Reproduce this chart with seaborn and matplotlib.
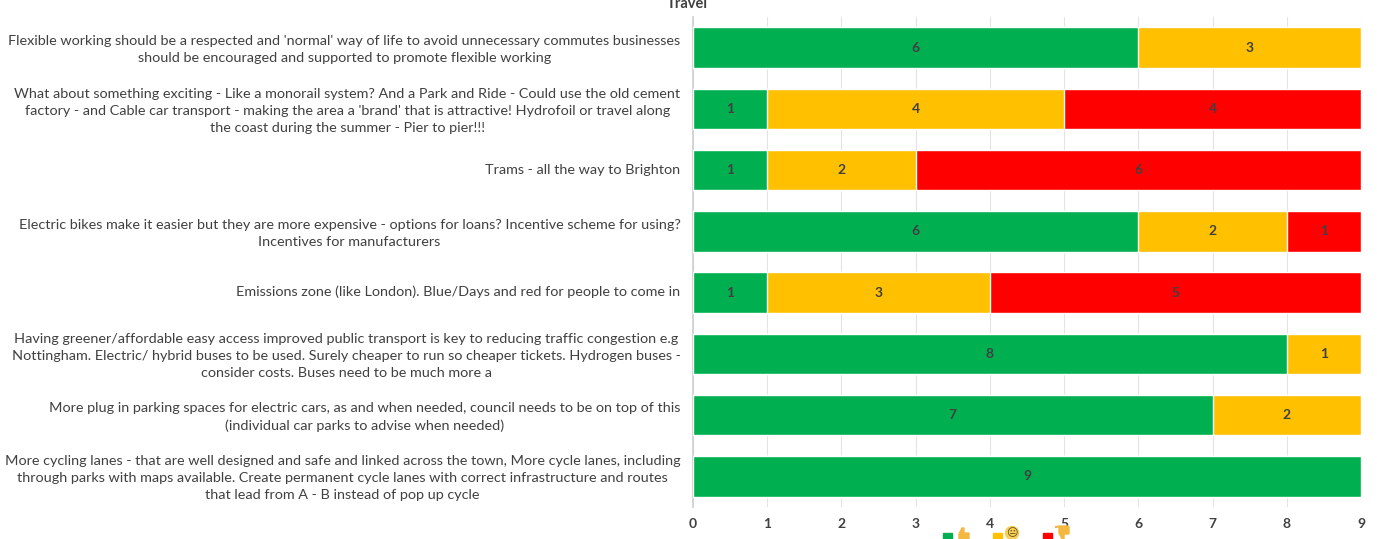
import numpy as np
import pandas as pd
import matplotlib
matplotlib.use('Agg')
import matplotlib.pyplot as plt
from matplotlib.patches import Rectangle, Circle, Polygon
from matplotlib.transforms import IdentityTransform, ScaledTranslation
import seaborn as sns

categories = [
    "Flexible working should be a respected and 'normal' way of life to avoid unnecessary commutes businesses\nshould be encouraged and supported to promote flexible working",
    "What about something exciting - Like a monorail system? And a Park and Ride - Could use the old cement\nfactory - and Cable car transport - making the area a 'brand' that is attractive! Hydrofoil or travel along\nthe coast during the summer - Pier to pier!!!",
    "Trams - all the way to Brighton",
    "Electric bikes make it easier but they are more expensive - options for loans? Incentive scheme for using?\nIncentives for manufacturers",
    "Emissions zone (like London). Blue/Days and red for people to come in",
    "Having greener/affordable easy access improved public transport is key to reducing traffic congestion e.g\nNottingham. Electric/ hybrid buses to be used. Surely cheaper to run so cheaper tickets. Hydrogen buses -\nconsider costs. Buses need to be much more a",
    "More plug in parking spaces for electric cars, as and when needed, council needs to be on top of this\n(individual car parks to advise when needed)",
    "More cycling lanes - that are well designed and safe and linked across the town, More cycle lanes, including\nthrough parks with maps available. Create permanent cycle lanes with correct infrastructure and routes\nthat lead from A - B instead of pop up cycle",
]
positive = [6, 1, 1, 6, 1, 8, 7, 9]
neutral = [3, 4, 2, 2, 3, 1, 2, 0]
negative = [0, 4, 6, 1, 5, 0, 0, 0]
x_ticks = [0, 1, 2, 3, 4, 5, 6, 7, 8, 9]

GREEN = '#00B050'
AMBER = '#FFC000'
RED = '#FF0000'
TEXT = '#404040'
THUMB = '#F4B740'

sns.set_theme(style='white')
plt.rcParams['font.family'] = ['Lato', 'DejaVu Sans']

df = pd.DataFrame({'label': categories, 'pos': positive, 'neu': neutral, 'neg': negative})
df['to_neu'] = df['pos'] + df['neu']
df['to_neg'] = df['to_neu'] + df['neg']

W, H = 1377, 539
fig = plt.figure(figsize=(W / 100, H / 100), dpi=100)
ax = fig.add_axes([693 / W, 1 - 507 / H, (1361 - 693) / W, (507 - 17) / H])

# stacked by overdrawing the running totals, longest first
for col, color in [('to_neg', RED), ('to_neu', AMBER), ('pos', GREEN)]:
    sns.barplot(data=df, x=col, y='label', color=color, saturation=1, width=0.66,
                orient='y', ax=ax, zorder=3)

for i, row in df.iterrows():
    start = 0
    for col in ['pos', 'neu', 'neg']:
        v = row[col]
        if v > 0:
            ax.text(start + v / 2, i, str(v), ha='center', va='center',
                    fontsize=10, color=TEXT, fontweight='bold', zorder=4)
        start += v

ax.set_xlim(0, 9)
ax.set_xticks(x_ticks)
ax.set_xlabel('')
ax.set_ylabel('')
ax.grid(axis='x', color='#E4E4E4', linewidth=0.8, zorder=0)
sns.despine(ax=ax, top=True, right=True, bottom=True)
ax.spines['left'].set_color('#D0D0D0')
ax.tick_params(axis='y', length=0, pad=9)
ax.tick_params(axis='x', length=0, pad=8, labelsize=10, labelcolor=TEXT)
nudge = ScaledTranslation(0, 1.5 / 100, fig.dpi_scale_trans)
for lab in ax.get_yticklabels():
    lab.set_fontsize(10.4)
    lab.set_color(TEXT)
    lab.set_ha('right')
    lab.set_multialignment('center')
    lab.set_linespacing(1.48)
    lab.set_transform(lab.get_transform() + nudge)
for lab in ax.get_xticklabels():
    lab.set_fontweight('bold')

# title sits mostly off the top edge in the source
fig.text(687 / W, 1 - 8 / H, 'Travel', ha='center', va='baseline', fontsize=10.5,
         fontweight='bold', color=TEXT)


def px(x, y):
    return (x, H - y)


def legend_square(x, color):
    fig.add_artist(Rectangle(px(x, 541), 9, 8, color=color, transform=IdentityTransform()))


def thumb(cx, cy, up=True):
    # no installed font has the thumb emoji, so a small shape stands in for it
    s = 1 if up else -1
    shape = [(-7, 5), (-3, 5), (-3, -1), (0, -7), (2, -7), (2, -2), (7, -2), (7, 5), (5, 6), (-3, 6)]
    pts = [px(cx + dx, cy + s * dy) for dx, dy in shape]
    fig.add_artist(Polygon(pts, closed=True, color=THUMB, transform=IdentityTransform()))


legend_square(943, GREEN)
thumb(962, 535, up=True)
legend_square(993, AMBER)
fig.add_artist(Circle(px(1012, 533), 6.5, color='#F6CF57', transform=IdentityTransform()))
fig.text(1012 / W, 1 - 533 / H, '\U0001F610', ha='center', va='center', fontsize=8,
         family=['DejaVu Sans'], color='#5A4A20')
legend_square(1043, RED)
thumb(1062, 532, up=False)

fig.savefig('out.png', dpi=100)
